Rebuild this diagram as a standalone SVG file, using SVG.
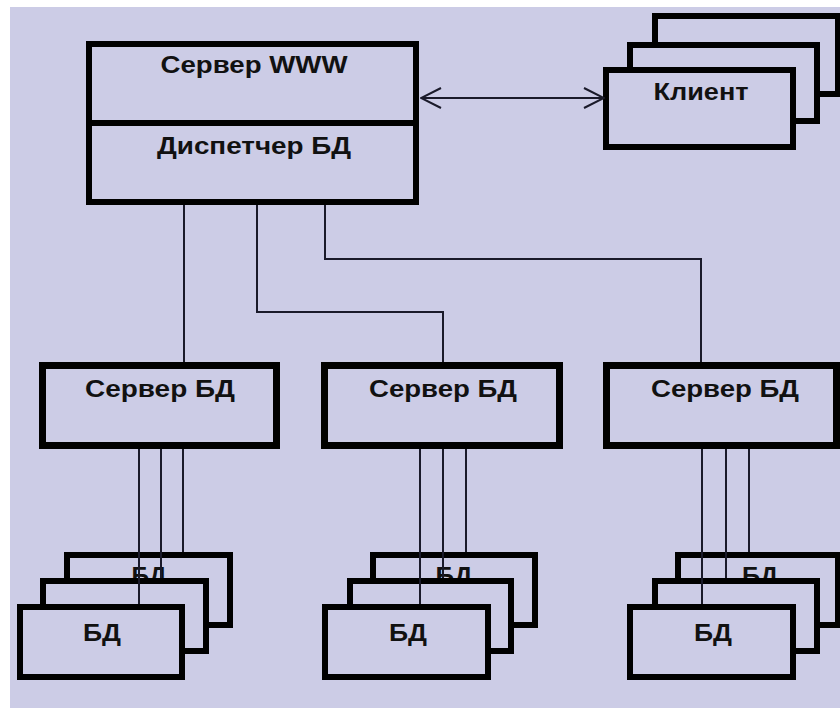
<svg xmlns="http://www.w3.org/2000/svg" width="840" height="710" viewBox="0 0 840 710">
  <style>
    .bg { fill: #ccccE6; }
    .box { fill: #ccccE6; stroke: #000; stroke-width: 6; }
    .srv { fill: #ccccE6; stroke: #000; stroke-width: 7; }
    .ln { fill: none; stroke: #1a1a2a; stroke-width: 2; }
    .t { font-family: "Liberation Sans", Arial, sans-serif; font-weight: bold; font-size: 23.5px; fill: #111; text-anchor: middle; }
  </style>
  <defs>
    <marker id="open" viewBox="0 0 22 22" refX="21" refY="11" markerUnits="userSpaceOnUse" markerWidth="22" markerHeight="22" orient="auto-start-reverse">
      <path d="M1,1 L21,11 L1,21" fill="none" stroke="#1a1a2a" stroke-width="2"/>
    </marker>
  </defs>
  <rect x="0" y="0" width="840" height="710" fill="#fff"/>
  <rect class="bg" x="10" y="7" width="830" height="701"/>

  <g id="main">
    <rect class="box" x="89" y="44" width="327" height="158"/>
    <line x1="89" y1="123" x2="416" y2="123" stroke="#000" stroke-width="6"/>
    <text class="t" x="254" y="73" textLength="187" lengthAdjust="spacingAndGlyphs">Сервер WWW</text>
    <text class="t" x="254" y="154" textLength="194" lengthAdjust="spacingAndGlyphs">Диспетчер БД</text>
  </g>

  <g id="client">
    <rect class="box" x="655" y="16" width="183" height="78"/>
    <rect class="box" x="630" y="45" width="187" height="76"/>
    <rect class="box" x="606" y="70" width="187" height="77"/>
    <text class="t" x="701" y="100" textLength="95" lengthAdjust="spacingAndGlyphs">Клиент</text>
  </g>

  <g id="server1">
    <rect class="srv" x="42.5" y="365.5" width="234" height="80"/>
    <text class="t" x="160" y="397" textLength="150" lengthAdjust="spacingAndGlyphs">Сервер БД</text>
  </g>
  <g id="server2">
    <rect class="srv" x="324.5" y="365.5" width="235" height="80"/>
    <text class="t" x="443" y="397" textLength="148" lengthAdjust="spacingAndGlyphs">Сервер БД</text>
  </g>
  <g id="server3">
    <rect class="srv" x="606.5" y="365.5" width="230" height="80"/>
    <text class="t" x="725" y="397" textLength="148" lengthAdjust="spacingAndGlyphs">Сервер БД</text>
  </g>

  <g id="db1">
    <rect class="box" x="67" y="555" width="163" height="70"/>
    <text class="t" x="149" y="584" textLength="35" lengthAdjust="spacingAndGlyphs">БД</text>
    <rect class="box" x="43" y="581" width="163" height="70"/>
    <rect class="box" x="20" y="607" width="162" height="70"/>
    <text class="t" x="102" y="641" textLength="38" lengthAdjust="spacingAndGlyphs">БД</text>
  </g>
  <g id="db2">
    <rect class="box" x="373" y="555" width="162" height="70"/>
    <text class="t" x="454" y="584" textLength="37" lengthAdjust="spacingAndGlyphs">БД</text>
    <rect class="box" x="350" y="581" width="161" height="70"/>
    <rect class="box" x="325" y="607" width="163" height="70"/>
    <text class="t" x="408" y="641" textLength="38" lengthAdjust="spacingAndGlyphs">БД</text>
  </g>
  <g id="db3">
    <rect class="box" x="678" y="555" width="160" height="70"/>
    <text class="t" x="760" y="584" textLength="36" lengthAdjust="spacingAndGlyphs">БД</text>
    <rect class="box" x="655" y="581" width="162" height="70"/>
    <rect class="box" x="630" y="607" width="163" height="70"/>
    <text class="t" x="713" y="641" textLength="38" lengthAdjust="spacingAndGlyphs">БД</text>
  </g>

  <g id="connectors">
    <line class="ln" x1="421" y1="98" x2="604" y2="98" marker-start="url(#open)" marker-end="url(#open)"/>
    <path class="ln" d="M184,205 V362"/>
    <path class="ln" d="M257,205 V312 H443 V362"/>
    <path class="ln" d="M325,205 V259 H701 V362"/>
    <path class="ln" d="M139,449 V604 M161,449 V578 M183,449 V552"/>
    <path class="ln" d="M420,449 V604 M443,449 V578 M466,449 V552"/>
    <path class="ln" d="M702,449 V604 M726,449 V578 M749,449 V552"/>
  </g>
</svg>
